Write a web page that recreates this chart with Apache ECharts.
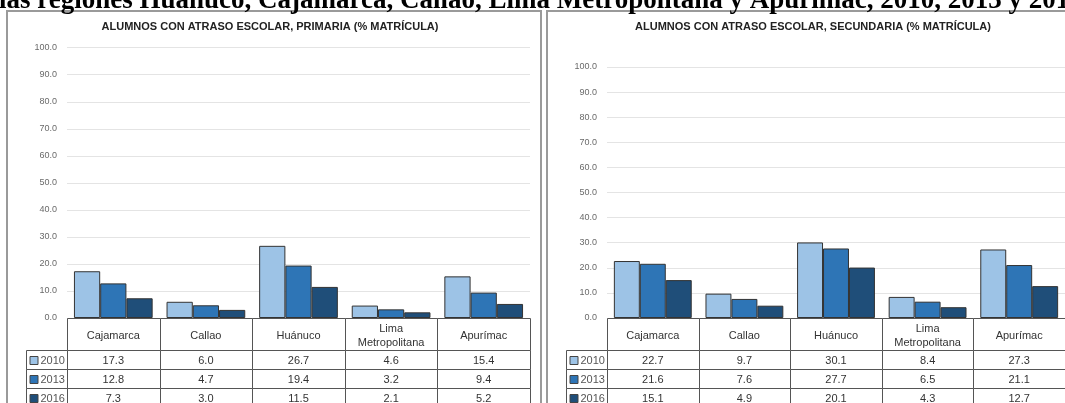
<!DOCTYPE html>
<html><head><meta charset="utf-8">
<script src="https://cdn.jsdelivr.net/npm/echarts@6/dist/echarts.min.js"></script>
<style>html,body{margin:0;padding:0;background:#fff}#c{width:1065px;height:403px}</style>
</head><body><div id="c"></div>
<script>
// ---- data ----
const headline = 'las regiones Huánuco, Cajamarca, Callao, Lima Metropolitana y Apurímac, 2010, 2013 y 2016';
const chartTitles = ['ALUMNOS CON ATRASO ESCOLAR, PRIMARIA (% MATRÍCULA)', 'ALUMNOS CON ATRASO ESCOLAR, SECUNDARIA (% MATRÍCULA)'];
const categories = ['Cajamarca', 'Callao', 'Huánuco', 'Lima\nMetropolitana', 'Apurímac'];
const years = ['2010', '2013', '2016'];
const primaria2010 = [17.3, 6.0, 26.7, 4.6, 15.4];
const primaria2013 = [12.8, 4.7, 19.4, 3.2, 9.4];
const primaria2016 = [7.3, 3.0, 11.5, 2.1, 5.2];
const secundaria2010 = [22.7, 9.7, 30.1, 8.4, 27.3];
const secundaria2013 = [21.6, 7.6, 27.7, 6.5, 21.1];
const secundaria2016 = [15.1, 4.9, 20.1, 4.3, 12.7];

// ---- styles ----
const colors = ['#9DC3E6', '#2E75B6', '#1F4E79'];
const lineCol = '#555';
const HH = 32, RH = 19, LW = 41;

function crisp(v) { return Math.round(v) + 0.5; }

function makeTable(rows) {
  return function (params, api) {
    const i = params.dataIndex;
    const p = api.coord([i, 0]);
    const bw = api.size([1, 0])[0];
    const x0 = crisp(p[0] - bw / 2), x1 = crisp(p[0] + bw / 2), y0 = crisp(p[1]);
    const w = x1 - x0;
    const children = [];
    children.push({ type: 'rect', shape: { x: x0, y: y0, width: w, height: HH },
      style: { fill: '#fff', stroke: lineCol, lineWidth: 1 } });
    children.push({ type: 'text', style: { text: categories[i], x: p[0], y: y0 + HH / 2 + 1,
      align: 'center', verticalAlign: 'middle', font: '11px "Liberation Sans"', fill: '#333', lineHeight: 14 } });
    rows.forEach(function (arr, r) {
      const ry = y0 + HH + r * RH;
      children.push({ type: 'rect', shape: { x: x0, y: ry, width: w, height: RH },
        style: { fill: '#fff', stroke: lineCol, lineWidth: 1 } });
      children.push({ type: 'text', style: { text: arr[i].toFixed(1), x: p[0], y: ry + RH / 2 + 1,
        align: 'center', verticalAlign: 'middle', font: '11px "Liberation Sans"', fill: '#333' } });
      if (i === 0) {
        const lx = x0 - LW;
        children.push({ type: 'rect', shape: { x: lx, y: ry, width: LW, height: RH },
          style: { fill: '#fff', stroke: lineCol, lineWidth: 1 } });
        children.push({ type: 'rect', shape: { x: lx + 3.5, y: Math.round(ry + RH / 2 - 4) + 0.5, width: 8, height: 8 },
          style: { fill: colors[r], stroke: '#444', lineWidth: 1 } });
        children.push({ type: 'text', style: { text: years[r], x: lx + 14, y: ry + RH / 2 + 1,
          align: 'left', verticalAlign: 'middle', font: '11px "Liberation Sans"', fill: '#555' } });
      }
    });
    return { type: 'group', children: children };
  };
}

const grids = [
  { left: 67, width: 463, top: 47.7, height: 270.3 },
  { left: 607, width: 463, top: 67, height: 251 }
];
const seriesSets = [
  [primaria2010, primaria2013, primaria2016],
  [secundaria2010, secundaria2013, secundaria2016]
];

const xAxes = [], yAxes = [], series = [];
grids.forEach(function (g, k) {
  xAxes.push({ type: 'category', gridIndex: k, data: categories,
    axisLine: { show: false }, axisTick: { show: false }, axisLabel: { show: false }, splitLine: { show: false } });
  yAxes.push({ type: 'value', gridIndex: k, min: 0, max: 100, interval: 10,
    axisLine: { show: false }, axisTick: { show: false },
    axisLabel: { formatter: function (v) { return v.toFixed(1); }, color: '#6a6a6a', fontSize: 9, margin: 10, fontFamily: 'Liberation Sans' },
    splitLine: { lineStyle: { color: '#e4e4e4', width: 1 } } });
  seriesSets[k].forEach(function (arr, r) {
    series.push({ type: 'bar', name: years[r], xAxisIndex: k, yAxisIndex: k, data: arr,
      barGap: '0%', barCategoryGap: '15%',
      itemStyle: { color: colors[r], borderColor: '#333', borderWidth: 1 } });
  });
  series.push({ type: 'custom', xAxisIndex: k, yAxisIndex: k, clip: false, z: 5,
    encode: { x: 0, y: 1 },
    data: categories.map(function (c, i) { return [i, 0]; }),
    renderItem: makeTable(seriesSets[k]) });
});

const chart = echarts.init(document.getElementById('c'), null, { renderer: 'canvas' });
chart.setOption({
  animation: false,
  backgroundColor: '#fff',
  grid: grids,
  xAxis: xAxes,
  yAxis: yAxes,
  series: series,
  graphic: [
    { type: 'rect', shape: { x: 7, y: 11, width: 534, height: 420 }, style: { fill: 'none', stroke: '#9a9a9a', lineWidth: 2 }, z: -1 },
    { type: 'rect', shape: { x: 547, y: 11, width: 540, height: 420 }, style: { fill: 'none', stroke: '#9a9a9a', lineWidth: 2 }, z: -1 },
    { type: 'text', style: { text: headline, x: -1, y: 1.5, verticalAlign: 'middle', font: 'bold 27px "Liberation Serif"', fill: '#000' }, z: 10 },
    { type: 'text', style: { text: chartTitles[0], x: 270, y: 27, align: 'center', verticalAlign: 'middle', font: 'bold 11px "Liberation Sans"', fill: '#222' } },
    { type: 'text', style: { text: chartTitles[1], x: 813, y: 27, align: 'center', verticalAlign: 'middle', font: 'bold 11px "Liberation Sans"', fill: '#222' } }
  ]
});
</script></body></html>
